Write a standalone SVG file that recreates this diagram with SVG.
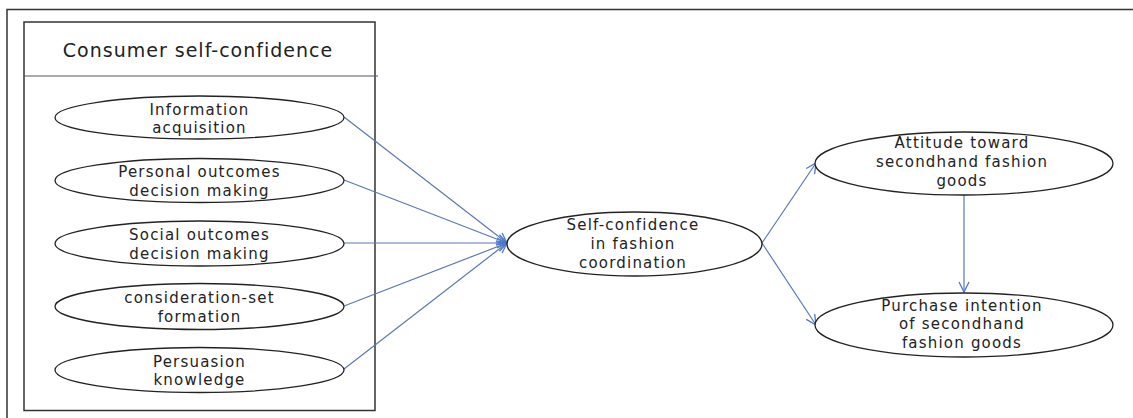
<svg xmlns="http://www.w3.org/2000/svg" width="1133" height="418" viewBox="0 0 1133 418">
<style>
.t{font-family:"DejaVu Sans","Noto Sans",sans-serif;font-size:15px;letter-spacing:1.2px;fill:#222;text-anchor:middle}
.e{fill:#fff;stroke:#222;stroke-width:1.3}
.c{stroke:#5b79b0;stroke-width:1.2;fill:none;marker-end:url(#ah)}
</style>
<defs>
<marker id="ah" viewBox="0 0 12 12" refX="11" refY="6" markerWidth="12" markerHeight="12" markerUnits="userSpaceOnUse" orient="auto">
<path d="M1,1 L11,6 L1,11" fill="none" stroke="#4a78d0" stroke-width="1.3"/>
</marker>
</defs>
<rect width="1133" height="418" fill="#fff"/>
<rect id="frame" x="7" y="9.5" width="1140" height="420" fill="none" stroke="#333" stroke-width="1.5"/>
<g id="consumer-box">
<rect x="24" y="22" width="351" height="388.5" fill="#fff" stroke="#333" stroke-width="1.5"/>
<line x1="24" y1="76" x2="378" y2="76" stroke="#556" stroke-width="1"/>
<text x="198" y="57" style="font-family:'DejaVu Sans','Noto Sans',sans-serif;font-size:19px;letter-spacing:1px;fill:#222;text-anchor:middle">Consumer self-confidence</text>
</g>
<g id="connectors">
<line class="c" x1="344" y1="117" x2="507" y2="243"/>
<line class="c" x1="344" y1="180" x2="507" y2="243"/>
<line class="c" x1="344" y1="243" x2="507" y2="243"/>
<line class="c" x1="344" y1="306" x2="507" y2="243"/>
<line class="c" x1="344" y1="369" x2="507" y2="243"/>
<line class="c" x1="762" y1="243" x2="816" y2="163"/>
<line class="c" x1="762" y1="243" x2="816" y2="325"/>
<line class="c" x1="964" y1="195" x2="964" y2="292"/>
</g>
<g id="n1"><ellipse class="e" cx="199.5" cy="117.5" rx="144.5" ry="21.5"/><text class="t" x="199.5" y="115">Information</text><text class="t" x="199.5" y="133">acquisition</text></g>
<g id="n2"><ellipse class="e" cx="199.5" cy="180.5" rx="144.5" ry="22"/><text class="t" x="199.5" y="177">Personal outcomes</text><text class="t" x="199.5" y="195.5">decision making</text></g>
<g id="n3"><ellipse class="e" cx="199.5" cy="243.5" rx="144.5" ry="22.5"/><text class="t" x="199.5" y="240">Social outcomes</text><text class="t" x="199.5" y="258.5">decision making</text></g>
<g id="n4"><ellipse class="e" cx="199.5" cy="306.5" rx="144.5" ry="23"/><text class="t" x="199.5" y="303">consideration-set</text><text class="t" x="199.5" y="321.5">formation</text></g>
<g id="n5"><ellipse class="e" cx="199.5" cy="370" rx="144.5" ry="22.5"/><text class="t" x="199.5" y="366.5">Persuasion</text><text class="t" x="199.5" y="385">knowledge</text></g>
<g id="n6"><ellipse class="e" cx="634.5" cy="244" rx="127.5" ry="32"/><text class="t" x="633" y="230">Self-confidence</text><text class="t" x="633" y="249">in fashion</text><text class="t" x="633" y="267.5">coordination</text></g>
<g id="n7"><ellipse class="e" cx="964" cy="163.5" rx="149" ry="31.5"/><text class="t" x="962" y="148">Attitude toward</text><text class="t" x="962" y="167">secondhand fashion</text><text class="t" x="962" y="186">goods</text></g>
<g id="n8"><ellipse class="e" cx="964" cy="325" rx="149" ry="32"/><text class="t" x="962" y="310.5">Purchase intention</text><text class="t" x="962" y="329">of secondhand</text><text class="t" x="962" y="348">fashion goods</text></g>
</svg>
